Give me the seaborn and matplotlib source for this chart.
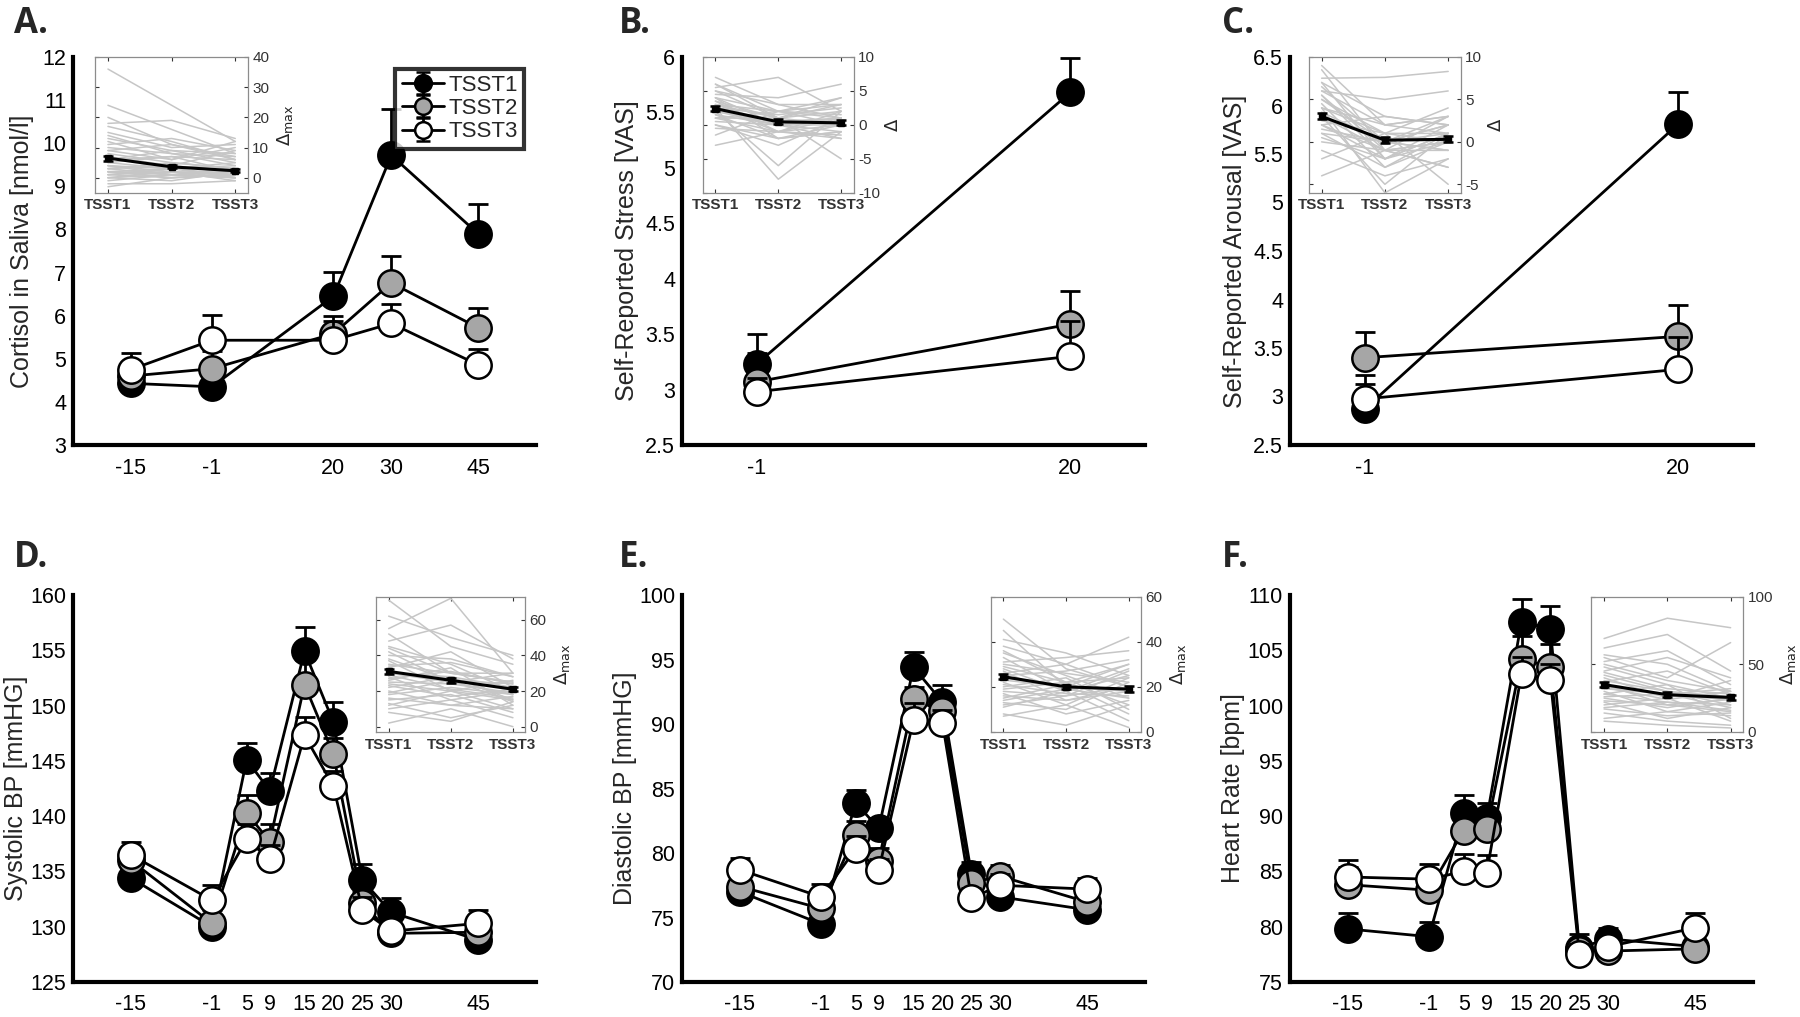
import numpy as np
import pandas as pd
import matplotlib
matplotlib.use("Agg")
import matplotlib.pyplot as plt
import seaborn as sns
from matplotlib.ticker import FuncFormatter

sns.set_style("white")
plt.rcParams["font.family"] = ["Liberation Sans", "DejaVu Sans"]
plt.rcParams["axes.unicode_minus"] = False

# ---------------------------------------------------------------- data
sessions = ["TSST1", "TSST2", "TSST3"]
face_colors = ["black", "#a6a6a6", "white"]

# A. cortisol
cort_min = [-15, -1, 20, 30, 45]
cort_t1 = [4.43, 4.35, 6.45, 9.72, 7.90]
cort_t1_err = [0.25, 0.20, 0.57, 1.08, 0.68]
cort_t2 = [4.60, 4.77, 5.58, 6.76, 5.72]
cort_t2_err = [0.30, 0.40, 0.42, 0.62, 0.45]
cort_t3 = [4.75, 5.43, 5.43, 5.82, 4.86]
cort_t3_err = [0.38, 0.58, 0.45, 0.46, 0.36]

# B. self-reported stress
vas_min = [-1, 20]
stress_t1 = [3.23, 5.68]
stress_t1_err = [0.27, 0.31]
stress_t2 = [3.07, 3.59]
stress_t2_err = [0.26, 0.30]
stress_t3 = [2.98, 3.30]
stress_t3_err = [0.12, 0.32]

# C. self-reported arousal
arous_t1 = [2.87, 5.81]
arous_t1_err = [0.26, 0.33]
arous_t2 = [3.40, 3.62]
arous_t2_err = [0.26, 0.32]
arous_t3 = [2.975, 3.28]
arous_t3_err = [0.25, 0.33]

# D-F. cardiovascular
bp_min = [-15, -1, 5, 9, 15, 20, 25, 30, 45]
sys_t1 = [134.4, 130.0, 145.1, 142.3, 154.9, 148.5, 134.2, 131.3, 128.8]
sys_t1_err = [0.9, 1.0, 1.5, 1.6, 2.2, 1.8, 1.5, 1.3, 1.2]
sys_t2 = [136.0, 130.3, 140.3, 137.7, 151.9, 145.6, 132.1, 129.4, 129.5]
sys_t2_err = [1.1, 1.2, 1.6, 1.6, 2.2, 1.5, 1.0, 0.8, 1.0]
sys_t3 = [136.5, 132.4, 137.9, 136.1, 147.3, 142.7, 131.5, 129.6, 130.3]
sys_t3_err = [1.2, 1.4, 1.4, 1.3, 1.7, 1.4, 1.2, 1.0, 1.2]

dia_t1 = [77.0, 74.5, 83.9, 81.9, 94.4, 91.7, 78.4, 76.6, 75.6]
dia_t1_err = [0.8, 1.0, 1.0, 0.85, 1.2, 1.3, 0.9, 0.9, 0.9]
dia_t2 = [77.4, 75.7, 81.4, 79.4, 91.9, 91.0, 77.7, 78.2, 76.2]
dia_t2_err = [0.8, 0.9, 1.1, 1.0, 1.0, 0.9, 0.9, 0.9, 0.9]
dia_t3 = [78.7, 76.6, 80.3, 78.7, 90.3, 90.1, 76.5, 77.5, 77.2]
dia_t3_err = [0.95, 1.0, 1.0, 0.8, 1.3, 1.0, 0.8, 0.9, 0.9]

hr_t1 = [79.8, 79.1, 90.3, 89.8, 107.6, 106.9, 78.1, 78.9, 78.2]
hr_t1_err = [1.4, 1.3, 1.6, 1.4, 2.0, 2.1, 1.2, 1.0, 0.9]
hr_t2 = [83.8, 83.3, 88.7, 88.8, 104.2, 103.5, 77.9, 77.8, 78.0]
hr_t2_err = [1.6, 1.5, 1.4, 1.4, 2.1, 2.1, 0.9, 1.2, 0.8]
hr_t3 = [84.5, 84.3, 85.0, 84.9, 102.9, 102.3, 77.5, 78.2, 79.9]
hr_t3_err = [1.5, 1.4, 1.6, 1.6, 1.5, 1.5, 0.9, 1.2, 1.3]

# Insets: individual change scores (TSST1, TSST2, TSST3) and group means
inset_A_subjects = [[36, 24, 12], [24, 16, 8], [18, 19, 13], [17, 12, 6], [15, 10, 11],
                    [13, 9, 5], [12, 6, 10], [10, 8, 4], [9, 11, 7], [8, 5, 3],
                    [7, 4, 9], [6, 7, 2], [5, 3, 4], [4, 2, 1], [3, 4, 2], [3, 1, 0],
                    [2, 3, 5], [2, 0, 1], [1, 2, -1], [0, -1, 2], [-1, 1, 0], [-3, 0, 1],
                    [2, 1, 0], [1, 0, 1], [4, 1, 2], [0, 2, 0], [11, 13, 9], [9, 6, 12],
                    [6, 9, 8], [5, 7, 6], [3, 5, 3], [2, 2, 2], [1, 3, 1], [0, 1, 3],
                    [4, 3, 0], [-2, -2, -1], [14, 8, 7], [20, 11, 6]]
inset_A_mean = [6.5, 3.6, 2.3]
inset_A_sem = [0.8, 0.5, 0.5]

inset_B_subjects = [[7, 3, 1], [6, 2, 0], [5.5, 7, 2], [5, 1, 2], [4.5, 4, 6], [4, 0, 1],
                    [4, -2, -1], [3.5, 1, 3], [3, 0, 0], [3, 2, 4], [2.5, -1, 1],
                    [2.5, -8, -1], [2, 0, -1], [2, -6, 2], [1.5, -2, 0], [1, 1, -5],
                    [1, -1, 2], [0.5, 0, -2], [0, -3, 1], [-0.5, -1, 0], [-1.5, 2, 3],
                    [-3, -1, -2], [3, 1, 0], [2, 0.5, 1], [5, 3, 3], [4, 2, 1.5],
                    [3.5, -1, -1.5], [2.5, 1.5, 2.5], [1.5, 0, 1], [6, 1, 4],
                    [0, -2, -1], [1, 2, 1]]
inset_B_mean = [2.4, 0.45, 0.3]
inset_B_sem = [0.35, 0.35, 0.35]

inset_C_subjects = [[9, 2, 1], [8.5, -1, 3], [7.5, 7.6, 8.3], [7, 3, 2], [6.5, 0, -1],
                    [6, 5, 6], [5.5, -2, 1], [5, 1, 4], [4.5, -3, 0], [4, 2, 3],
                    [4, -6, -2], [3.5, 0, 2], [3, -1, -3], [3, -5, 1], [2.5, 1, 0],
                    [2, -2, 2], [1.5, 0, -1], [1, -3, 1], [0, -1, 0], [-1, -4, -2],
                    [-2, 1, -5], [-4, -1, -3], [3, 0, 1], [2, -1, 0], [6, 2, 3],
                    [5, 0, 2], [4, 1, 1], [7, -2, 0], [2, 3, 2], [1, 0, 3],
                    [5.5, -1, -1], [0.5, -2, 1]]
inset_C_mean = [3.0, 0.2, 0.3]
inset_C_sem = [0.35, 0.35, 0.35]

inset_D_subjects = [[71, 45, 35], [62, 50, 40], [55, 72, 30], [52, 30, 25], [48, 57, 38],
                    [45, 35, 20], [42, 25, 30], [40, 38, 28], [37, 20, 15], [35, 30, 25],
                    [33, 42, 22], [30, 25, 18], [28, 15, 20], [26, 33, 12], [24, 20, 26],
                    [22, 28, 15], [20, 12, 10], [18, 22, 18], [15, 18, 8], [13, 5, 12],
                    [10, 15, 5], [8, 3, 14], [2, 10, 0], [30, 28, 22], [25, 24, 19],
                    [44, 30, 30], [38, 26, 24], [34, 36, 28], [29, 21, 16], [27, 31, 24],
                    [23, 17, 21], [19, 26, 14], [16, 12, 17], [12, 20, 10]]
inset_D_mean = [31, 26, 21]
inset_D_sem = [1.5, 1.5, 1.2]

inset_E_subjects = [[50, 28, 20], [45, 20, 30], [41, 35, 25], [38, 30, 42], [35, 25, 15],
                    [33, 18, 28], [31, 33, 36], [29, 22, 12], [27, 14, 20], [25, 27, 32],
                    [23, 20, 18], [22, 12, 24], [20, 24, 10], [18, 16, 27], [17, 8, 14],
                    [15, 21, 8], [13, 10, 22], [11, 18, 5], [8, 3, 12], [7, 12, 2],
                    [24, 20, 19], [21, 17, 16], [36, 22, 24], [30, 26, 22], [28, 18, 25],
                    [26, 30, 20], [19, 22, 30], [16, 14, 18], [14, 19, 15], [12, 16, 20]]
inset_E_mean = [24.5, 20, 19]
inset_E_sem = [1.2, 1.0, 1.2]

inset_F_subjects = [[69, 84, 77], [62, 72, 45], [57, 50, 30], [55, 40, 66], [52, 60, 35],
                    [48, 35, 25], [45, 55, 40], [42, 30, 20], [40, 25, 38], [37, 45, 28],
                    [35, 20, 15], [32, 28, 32], [30, 15, 22], [28, 35, 10], [25, 18, 25],
                    [22, 10, 18], [20, 25, 8], [17, 12, 14], [14, 8, 5], [10, 15, 12],
                    [8, 5, 3], [34, 27, 24], [28, 22, 20], [50, 38, 30], [44, 32, 28],
                    [38, 30, 26], [33, 24, 30], [26, 28, 18], [23, 20, 24], [18, 22, 16]]
inset_F_mean = [35, 27.5, 25.5]
inset_F_sem = [1.8, 1.8, 1.8]

# ---------------------------------------------------------------- figure
W, H = 1800, 1017
fig = plt.figure(figsize=(W / 100, H / 100), dpi=100)

col_left = [73, 682, 1290]
ax_w = 463
row_top = [57, 595]
row_bot = [445, 982]


def make_ax(col, row):
    l = col_left[col] / W
    b = (H - row_bot[row]) / H
    h = (row_bot[row] - row_top[row]) / H
    return fig.add_axes([l, b, ax_w / W, h])


fmt_g = FuncFormatter(lambda v, p: "{:g}".format(v))


def draw_panel(ax, minutes, series, errs, xticks, xlim, ylim, yticks, ylabel, label_x):
    for i, (s, vals, err) in enumerate(zip(sessions, series, errs)):
        df = pd.DataFrame({"minute": minutes, "value": vals})
        z = 3 + 2 * i
        ax.errorbar(minutes, vals, yerr=[np.zeros(len(err)), err], fmt="none",
                    ecolor="black", elinewidth=2.0, capsize=7.5, capthick=2.0, zorder=z)
        sns.lineplot(data=df, x="minute", y="value", ax=ax, color="black",
                     linewidth=2.0, marker="o", markersize=19,
                     markerfacecolor=face_colors[i], markeredgecolor="black",
                     markeredgewidth=1.8, errorbar=None, zorder=z + 1, legend=False)
    ax.set_xlim(*xlim)
    ax.set_ylim(*ylim)
    ax.set_xticks(xticks)
    ax.set_yticks(yticks)
    ax.xaxis.set_major_formatter(fmt_g)
    ax.yaxis.set_major_formatter(fmt_g)
    ax.set_xlabel("")
    ax.set_ylabel(ylabel, fontsize=18)
    ax.yaxis.set_label_coords(label_x, 0.5)
    for sp in ["top", "right"]:
        ax.spines[sp].set_visible(False)
    for sp in ["left", "bottom"]:
        ax.spines[sp].set_linewidth(3.0)
        ax.spines[sp].set_color("black")
    ax.tick_params(direction="in", length=8, width=2, labelsize=15.5, pad=5,
                   colors="black")
    ax.tick_params(axis="x", pad=9)


def draw_inset(ax, rect, subjects, mean, sem, ylim, yticks, ylabel):
    ia = ax.inset_axes(rect)
    rows = []
    for k, subj in enumerate(subjects):
        for j, v in enumerate(subj):
            rows.append({"subject": k, "session": j + 1, "delta": v})
    dfi = pd.DataFrame(rows)
    sns.lineplot(data=dfi, x="session", y="delta", units="subject", estimator=None,
                 color="#c6c6c6", linewidth=1.1, ax=ia, legend=False)
    ia.errorbar([1, 2, 3], mean, yerr=sem, fmt="-s", color="black", ms=4,
                linewidth=2.2, elinewidth=1.8, capsize=3.5, capthick=1.8, zorder=5)
    ia.set_xlim(0.8, 3.2)
    ia.set_ylim(*ylim)
    ia.set_xticks([1, 2, 3])
    ia.set_xticklabels(sessions, fontsize=11, fontweight="bold", color="#222222")
    ia.set_yticks(yticks)
    ia.yaxis.set_major_formatter(fmt_g)
    ia.set_xlabel("")
    ia.yaxis.tick_right()
    ia.yaxis.set_label_position("right")
    ia.set_ylabel(ylabel, fontsize=13, rotation=90, labelpad=4)
    ia.tick_params(direction="in", length=3, width=0.8, labelsize=11,
                   colors="#333333", top=True, bottom=True, left=True, right=True,
                   pad=3)
    ia.tick_params(axis="x", pad=4)
    for sp in ia.spines.values():
        sp.set_visible(True)
        sp.set_color("#8c8c8c")
        sp.set_linewidth(0.9)
    ia.set_facecolor("white")
    return ia


xl = (-25, 55)
xl2 = (-6, 25)

axA = make_ax(0, 0)
draw_panel(axA, cort_min, [cort_t1, cort_t2, cort_t3],
           [cort_t1_err, cort_t2_err, cort_t3_err],
           cort_min, xl, (3, 12), np.arange(3, 13, 1), "Cortisol in Saliva [nmol/l]", -0.085)
draw_inset(axA, [0.048, 0.65, 0.33, 0.35], inset_A_subjects, inset_A_mean, inset_A_sem,
           (-5, 40), [0, 10, 20, 30, 40], r"$\Delta_{\mathrm{max}}$")

axB = make_ax(1, 0)
draw_panel(axB, vas_min, [stress_t1, stress_t2, stress_t3],
           [stress_t1_err, stress_t2_err, stress_t3_err],
           vas_min, xl2, (2.5, 6), np.arange(2.5, 6.01, 0.5), "Self-Reported Stress [VAS]",
           -0.092)
draw_inset(axB, [0.045, 0.65, 0.326, 0.35], inset_B_subjects, inset_B_mean, inset_B_sem,
           (-10, 10), [-10, -5, 0, 5, 10], r"$\Delta$")

axC = make_ax(2, 0)
draw_panel(axC, vas_min, [arous_t1, arous_t2, arous_t3],
           [arous_t1_err, arous_t2_err, arous_t3_err],
           vas_min, xl2, (2.5, 6.5), np.arange(2.5, 6.51, 0.5), "Self-Reported Arousal [VAS]",
           -0.092)
draw_inset(axC, [0.041, 0.65, 0.328, 0.35], inset_C_subjects, inset_C_mean, inset_C_sem,
           (-6, 10), [-5, 0, 5, 10], r"$\Delta$")

axD = make_ax(0, 1)
draw_panel(axD, bp_min, [sys_t1, sys_t2, sys_t3], [sys_t1_err, sys_t2_err, sys_t3_err],
           bp_min, xl, (125, 160), np.arange(125, 161, 5), "Systolic BP [mmHG]", -0.098)
draw_inset(axD, [0.655, 0.646, 0.322, 0.35], inset_D_subjects, inset_D_mean, inset_D_sem,
           (-3, 73), [0, 20, 40, 60], r"$\Delta_{\mathrm{max}}$")

axE = make_ax(1, 1)
draw_panel(axE, bp_min, [dia_t1, dia_t2, dia_t3], [dia_t1_err, dia_t2_err, dia_t3_err],
           bp_min, xl, (70, 100), np.arange(70, 101, 5), "Diastolic BP [mmHG]", -0.098)
draw_inset(axE, [0.667, 0.646, 0.325, 0.35], inset_E_subjects, inset_E_mean, inset_E_sem,
           (0, 60), [0, 20, 40, 60], r"$\Delta_{\mathrm{max}}$")

axF = make_ax(2, 1)
draw_panel(axF, bp_min, [hr_t1, hr_t2, hr_t3], [hr_t1_err, hr_t2_err, hr_t3_err],
           bp_min, xl, (75, 110), np.arange(75, 111, 5), "Heart Rate [bpm]", -0.098)
draw_inset(axF, [0.651, 0.646, 0.328, 0.35], inset_F_subjects, inset_F_mean, inset_F_sem,
           (0, 100), [0, 50, 100], r"$\Delta_{\mathrm{max}}$")

# legend in panel A
handles = []
for i, s in enumerate(sessions):
    h = axA.errorbar([np.nan], [np.nan], yerr=[[0.1], [0.1]], fmt="-o", color="black",
                     ms=12, mfc=face_colors[i], mec="black", mew=1.8, lw=2,
                     elinewidth=2, capsize=5, capthick=2)
    handles.append(h)
leg = axA.legend(handles, sessions, loc="upper right", bbox_to_anchor=(0.974, 0.97),
                 fontsize=16, frameon=True, fancybox=False,
                 handlelength=1.9, labelspacing=0.1, borderpad=0.28, handletextpad=0.2,
                 borderaxespad=0)
leg.get_frame().set_edgecolor("black")
leg.get_frame().set_linewidth(3.0)
leg.set_zorder(20)

# panel letters
for letter, (x, y) in zip(["A.", "B.", "C.", "D.", "E.", "F."],
                          [(14, 24), (619, 24), (1222, 24), (14, 558), (619, 558), (1222, 558)]):
    fig.text(x / W, 1 - y / H, letter, fontsize=25, fontweight="bold",
             family=["Open Sans", "DejaVu Sans"], va="center", ha="left")

fig.savefig("out.png", dpi=100)
